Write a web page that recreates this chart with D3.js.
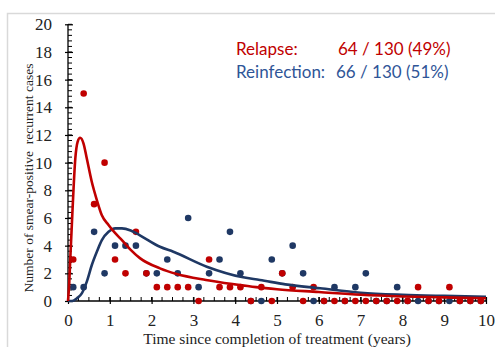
<!DOCTYPE html>
<html>
<head>
<meta charset="utf-8">
<script src="https://cdn.jsdelivr.net/npm/d3@7"></script>
<style>
  html, body { margin: 0; padding: 0; background: #fff; }
  svg { display: block; }
</style>
</head>
<body>
<div class="chart-container"></div>
<script>
// quarter mid-points (years since completion of treatment)
const quarterTimes = [0.125, 0.375, 0.625, 0.875, 1.125, 1.375, 1.625, 1.875, 2.125, 2.375,
  2.625, 2.875, 3.125, 3.375, 3.625, 3.875, 4.125, 4.375, 4.625, 4.875,
  5.125, 5.375, 5.625, 5.875, 6.125, 6.375, 6.625, 6.875, 7.125, 7.375,
  7.625, 7.875, 8.125, 8.375, 8.625, 8.875, 9.125, 9.375, 9.625, 9.875];

const relapseCounts = [3, 15, 7, 10, 3, 2, 5, 2, 1, 1, 1, 1, 0, 3, 1, 1, 1, 0, 1, 0,
  2, 1, 0, 1, 0, 0, 0, 0, 0, 0, 0, 0, 0, 1, 0, 0, 1, 0, 0, 0];
const reinfectionCounts = [1, 1, 5, 2, 4, 4, 4, 2, 2, 3, 2, 6, 1, 2, 3, 5, 2, 0, 0, 3,
  2, 4, 2, 0, 0, 1, 0, 1, 2, 0, 0, 1, 0, 0, 0, 0, 0, 0, 0, 0];

// fitted curves
const relapseFitX = [0, 0.03, 0.055, 0.11, 0.175, 0.23, 0.29, 0.37, 0.45, 0.57, 0.69, 0.81, 0.97,
  1.13, 1.29, 1.5, 1.72, 2.2, 2.6, 3.3, 4.0, 4.5, 5.0, 6.0, 7.0, 8.0, 9.0, 10.0];
const relapseFitY = [0, 1.3, 3.1, 6.7, 10.3, 11.5, 11.8, 11.4, 10.3, 8.6, 7.3, 6.2, 5.5,
  4.9, 4.4, 3.7, 3.1, 2.36, 1.95, 1.52, 1.2, 1.0, 0.85, 0.65, 0.45, 0.33, 0.26, 0.2];

const reinfectionFitX = [0, 0.1, 0.215, 0.33, 0.45, 0.57, 0.69, 0.81, 0.97, 1.13, 1.29, 1.5,
  1.72, 2.2, 2.52, 3.32, 4.19, 4.59, 5.2, 6.03, 7.0, 8.0, 9.0, 10.0];
const reinfectionFitY = [0, 0, 0.2, 0.55, 1.4, 2.6, 3.56, 4.4, 5.0, 5.25, 5.25, 5.1,
  4.75, 3.92, 3.56, 2.48, 1.71, 1.52, 1.2, 0.92, 0.6, 0.45, 0.37, 0.31];

const yTicks = [0, 2, 4, 6, 8, 10, 12, 14, 16, 18, 20];
const xTicks = [0, 1, 2, 3, 4, 5, 6, 7, 8, 9, 10];

const legendLines = [
  {label: 'Relapse:', value: '64 / 130 (49%)', color: '#c00000'},
  {label: 'Reinfection:', value: '66 / 130 (51%)', color: '#2f5597'}
];

const width = 495;
const height = 347;
const redColor = '#c00000';
const blueColor = '#1f3864';

const svg = d3.select('.chart-container')
  .append('svg')
  .attr('width', width)
  .attr('height', height);

// outer frame
svg.append('rect')
  .attr('x', 7.5)
  .attr('y', 13.5)
  .attr('width', 520)
  .attr('height', 360)
  .attr('fill', 'none')
  .attr('stroke', '#d9d9d9')
  .attr('stroke-width', 1.5);

const x = d3.scaleLinear().domain([0, 10]).range([68, 486]);
const y = d3.scaleLinear().domain([0, 20]).range([301, 24.3]);

// minor ticks
svg.append('g')
  .selectAll('line')
  .data(d3.range(0, 20.01, 0.4))
  .enter()
  .append('line')
  .attr('x1', x(0)).attr('x2', x(0) + 4)
  .attr('y1', d => y(d)).attr('y2', d => y(d))
  .attr('stroke', '#000').attr('stroke-width', 1);

svg.append('g')
  .selectAll('line')
  .data(d3.range(0, 10.01, 0.25))
  .enter()
  .append('line')
  .attr('x1', d => x(d)).attr('x2', d => x(d))
  .attr('y1', y(0)).attr('y2', y(0) - 4)
  .attr('stroke', '#000').attr('stroke-width', 1);

// y axis
const yAxis = svg.append('g')
  .attr('class', 'axis axis-y')
  .attr('transform', `translate(${x(0)},0)`)
  .call(d3.axisLeft(y).tickValues(yTicks).tickSize(3).tickPadding(13));
yAxis.selectAll('.tick line').attr('x2', -3).attr('x1', 5).attr('stroke-width', 1.2);
yAxis.select('.domain').attr('d', `M0,${y(0)}V${y(20)}`).attr('stroke-width', 1.3);

// x axis
const xAxis = svg.append('g')
  .attr('class', 'axis axis-x')
  .attr('transform', `translate(0,${y(0)})`)
  .call(d3.axisBottom(x).tickValues(xTicks).tickSize(3).tickPadding(10));
xAxis.selectAll('.tick line').attr('y1', -4).attr('y2', 3).attr('stroke-width', 1.2);
xAxis.select('.domain').attr('d', `M${x(0)},0H${x(10)}`).attr('stroke-width', 1.3);

svg.selectAll('.axis text')
  .attr('font-family', '"Liberation Serif", "Times New Roman", serif')
  .attr('font-size', 17)
  .attr('fill', '#222');

// axis titles
svg.append('text')
  .attr('x', 277)
  .attr('y', 344)
  .attr('text-anchor', 'middle')
  .attr('font-family', '"Liberation Serif", "Times New Roman", serif')
  .attr('font-size', 15.5)
  .attr('fill', '#222')
  .text('Time since completion of treatment (years)');

svg.append('text')
  .attr('transform', 'translate(33,178) rotate(-90)')
  .attr('text-anchor', 'middle')
  .attr('font-family', '"Liberation Serif", "Times New Roman", serif')
  .attr('font-size', 13.5)
  .attr('fill', '#222')
  .style('white-space', 'pre')
  .text('Number of smear-positive  recurrent cases');

// points, blue under red
const pointData = (counts) => quarterTimes.map((t, i) => ({t: t, v: counts[i]}));

svg.append('g')
  .selectAll('circle')
  .data(pointData(reinfectionCounts))
  .enter()
  .append('circle')
  .attr('cx', d => x(d.t))
  .attr('cy', d => y(d.v))
  .attr('r', 3.3)
  .attr('fill', blueColor);

svg.append('g')
  .selectAll('circle')
  .data(pointData(relapseCounts))
  .enter()
  .append('circle')
  .attr('cx', d => x(d.t))
  .attr('cy', d => y(d.v))
  .attr('r', 3.3)
  .attr('fill', redColor);

// fitted curves
const line = d3.line()
  .x(d => x(d[0]))
  .y(d => y(d[1]))
  .curve(d3.curveMonotoneX);

svg.append('path')
  .datum(reinfectionFitX.map((v, i) => [v, reinfectionFitY[i]]))
  .attr('d', line)
  .attr('fill', 'none')
  .attr('stroke', blueColor)
  .attr('stroke-width', 2.6);

svg.append('path')
  .datum(relapseFitX.map((v, i) => [v, relapseFitY[i]]))
  .attr('d', line)
  .attr('fill', 'none')
  .attr('stroke', redColor)
  .attr('stroke-width', 2.6);

// legend text
const legend = svg.append('g')
  .attr('font-family', 'Lato, "Open Sans", sans-serif')
  .attr('font-size', 17);

legend.selectAll('.legend-label')
  .data(legendLines)
  .enter()
  .append('text')
  .attr('class', 'legend-label')
  .attr('x', 236)
  .attr('y', (d, i) => 55 + i * 23)
  .attr('fill', d => d.color)
  .text(d => d.label);

legend.selectAll('.legend-value')
  .data(legendLines)
  .enter()
  .append('text')
  .attr('class', 'legend-value')
  .attr('x', (d, i) => i === 0 ? 338 : 336)
  .attr('y', (d, i) => 55 + i * 23)
  .attr('fill', d => d.color)
  .text(d => d.value);
</script>
</body>
</html>
